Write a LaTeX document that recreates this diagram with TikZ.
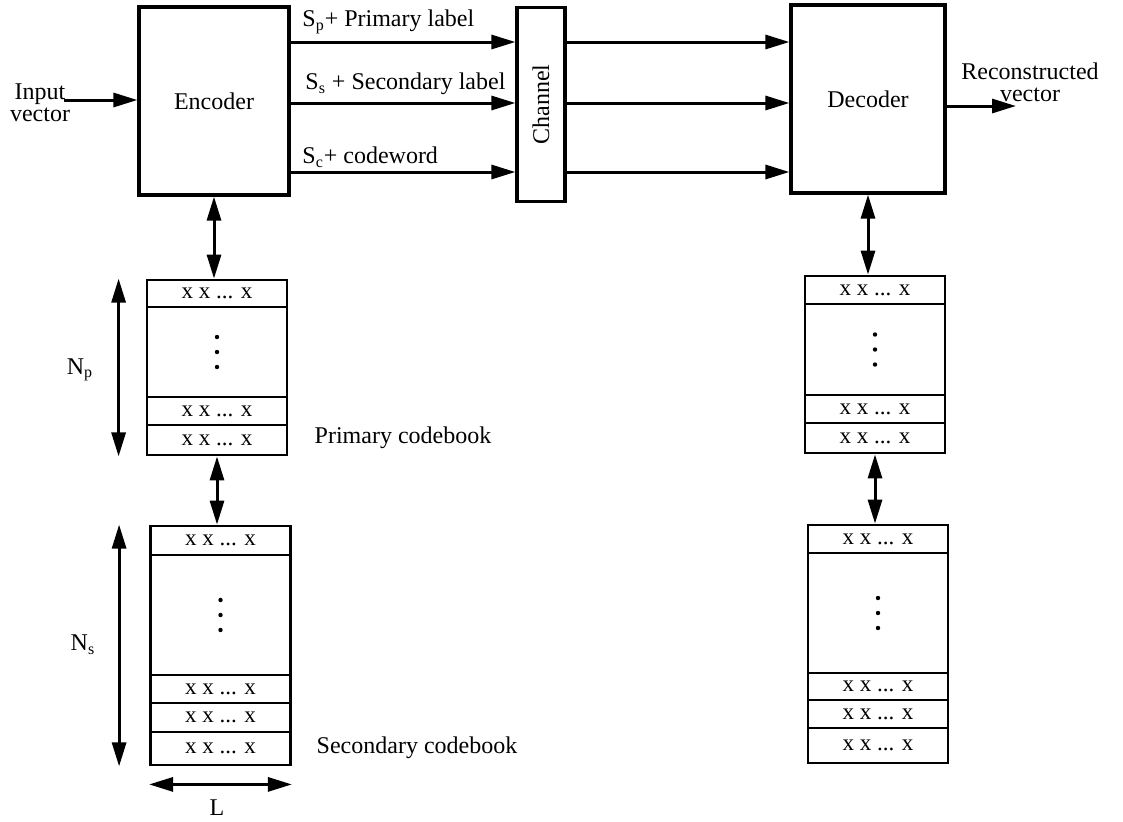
\documentclass[tikz,border=0pt]{standalone}
\usepackage{fontspec}
\setmainfont{Liberation Serif}
\usetikzlibrary{arrows.meta,positioning}
\tikzset{blk/.style={draw,line width=1.6pt,inner sep=0pt,font=\fontsize{12}{13}\selectfont},
 row/.style={draw,line width=1.4pt,inner sep=0pt,minimum width=70pt,font=\fontsize{11.5}{12}\selectfont},
 ar/.style={line width=1.5pt,-{Triangle[length=12pt,width=7pt]}},
 dar/.style={line width=1.5pt,{Triangle[length=12pt,width=7pt]}-{Triangle[length=12pt,width=7pt]}},
 lbl/.style={font=\fontsize{12}{11}\selectfont,inner sep=1pt}}
\newcommand\rowdots[1]{\foreach\d in {-15,0,15}\fill ([yshift=-\d*0.5pt]#1.center) circle (1.1pt);}

\begin{document}
\begin{tikzpicture}[x=0.5pt,y=-0.5pt]
\useasboundingbox (0,0) rectangle (1123,821);
% top chain
\node[blk,minimum width=75pt,minimum height=94pt](enc) at (214,101){Encoder};
\node[blk,minimum width=24pt,minimum height=97pt](ch) at (541,104.5){\rotatebox{90}{Channel}};
\node[blk,minimum width=77pt,minimum height=94pt](dec) at (868,99){Decoder};
\node[lbl,align=center](in) at (40,103){Input\\vector};
\node[lbl,align=center](rec) at (1030,82){Reconstructed\\vector};
\coordinate (inr) at (64,100);\coordinate (out) at (1016,106);
\draw[ar](inr)--(enc.west |- inr);\draw[ar](dec.east |- out)--(out);
\foreach\y in {42,103,172}{\draw[ar](enc.east |- 0,\y)--(ch.west |- 0,\y);\draw[ar](ch.east |- 0,\y)--(dec.west |- 0,\y);}
\node[lbl,anchor=west](lp) at (300,22){S\textsubscript{p}+ Primary label};
\node[lbl,anchor=west](ls) at (303,84){S\textsubscript{s} + Secondary label};
\node[lbl,anchor=west](lc) at (300,157){S\textsubscript{c}+ codeword};
% codebooks
\foreach\n/\y/\h/\t in {1/293.5/13.5/{x x ... x},2/352/45/{},3/411/14/{x x ... x},4/440/15/{x x ... x}}
 \node[row,minimum height=\h pt](pa\n) at (217,\y){\t};
\foreach\n/\y/\h/\t in {1/540.5/14.5/{x x ... x},2/615/60/{},3/689/14/{x x ... x},4/717.5/14.5/{x x ... x},5/748.5/16.5/{x x ... x}}
 \node[row,minimum height=\h pt](sa\n) at (220.5,\y){\t};
\foreach\n/\y/\h/\t in {1/290/14/{x x ... x},2/349.5/45.5/{},3/409/14/{x x ... x},4/438/15/{x x ... x}}
 \node[row,minimum height=\h pt](pb\n) at (875,\y){\t};
\foreach\n/\y/\h/\t in {1/539/14/{x x ... x},2/613/60/{},3/686.5/13.5/{x x ... x},4/714/14/{x x ... x},5/745.5/17.5/{x x ... x}}
 \node[row,minimum height=\h pt](sb\n) at (878,\y){\t};
\rowdots{pa2}\rowdots{sa2}\rowdots{pb2}\rowdots{sb2}
\draw[dar](enc.south)--(enc.south |- pa1.north);\draw[dar](pa4.south)--(pa4.south |- sa1.north);
\draw[dar](dec.south)--(dec.south |- pb1.north);\draw[dar](pb4.south)--(pb4.south |- sb1.north);
% sizes
\draw[dar]([xshift=-13.5pt]pa1.north west)--([xshift=-13.5pt]pa4.south west);
\draw[dar]([xshift=-15pt]sa1.north west)--([xshift=-15pt]sa5.south west);
\draw[dar]([yshift=-9pt]sa5.south west)--([yshift=-9pt]sa5.south east);
\node[lbl](np) at (80,370){N\textsubscript{p}};\node[lbl](ns) at (83,645){N\textsubscript{s}};
\node[lbl](l) at (217,808){L};
\node[lbl](pc) at (403,438){Primary codebook};\node[lbl](sc) at (417,748){Secondary codebook};
\end{tikzpicture}
\end{document}
